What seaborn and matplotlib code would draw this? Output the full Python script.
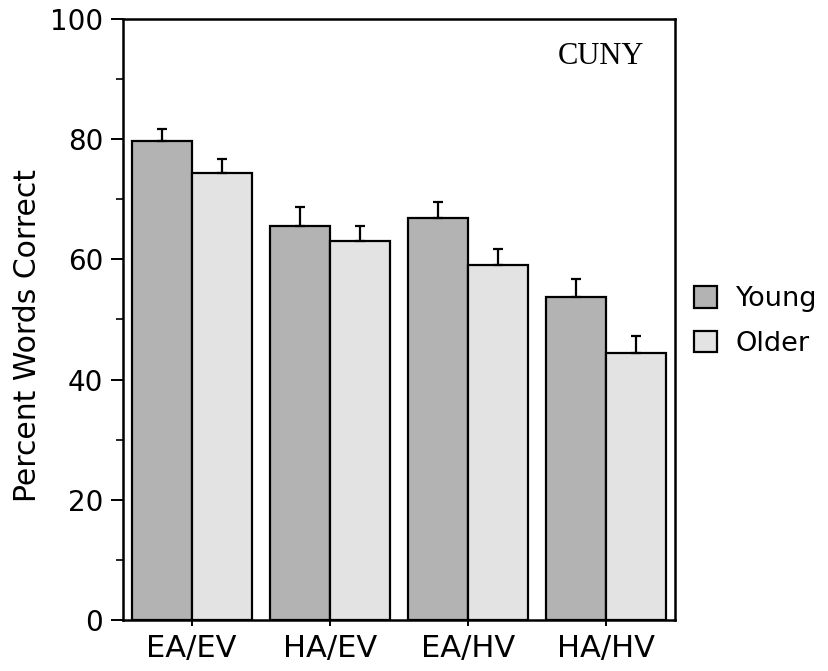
import matplotlib
matplotlib.use("Agg")
import matplotlib.pyplot as plt
import seaborn as sns
import pandas as pd
import numpy as np
from matplotlib.ticker import MultipleLocator

# Percent words correct per listening condition, young vs older listeners
conditions = ["EA/EV", "HA/EV", "EA/HV", "HA/HV"]
groups = ["Young", "Older"]
young_pct = [79.6, 65.6, 66.9, 53.7]
older_pct = [74.3, 63.0, 59.0, 44.4]
young_err = [2.1, 3.1, 2.7, 3.0]
older_err = [2.4, 2.6, 2.7, 2.9]

df = pd.DataFrame({
    "cond": conditions * 2,
    "group": ["Young"] * 4 + ["Older"] * 4,
    "pct": young_pct + older_pct,
})
errs = {"Young": young_err, "Older": older_err}

sns.set_style("ticks")
plt.rcParams["font.family"] = ["DejaVu Sans"]
plt.rcParams["text.color"] = "black"
plt.rcParams["axes.labelcolor"] = "black"
plt.rcParams["xtick.color"] = "black"
plt.rcParams["ytick.color"] = "black"

fig = plt.figure(figsize=(8.29, 6.71), dpi=100)
ax = fig.add_axes([0.148, 0.076, 0.666, 0.896])

palette = {"Young": "#b3b3b3", "Older": "#e3e3e3"}
sns.barplot(data=df, x="cond", y="pct", hue="group", hue_order=groups,
            order=conditions, palette=palette, edgecolor="black",
            linewidth=1.6, width=0.87, gap=0, saturation=1, ax=ax,
            errorbar=None, legend=True)

# upward-only error bars on every bar
for cont, g in zip(ax.containers, groups):
    xs = [b.get_x() + b.get_width() / 2 for b in cont]
    hs = [b.get_height() for b in cont]
    e = np.array(errs[g])
    ax.errorbar(xs, hs, yerr=[np.zeros_like(e), e], fmt="none",
                ecolor="black", elinewidth=1.6, capsize=3.5, capthick=1.6,
                zorder=1)

ax.set_xlim(-0.5, 3.5)
ax.set_ylim(0, 100)
ax.yaxis.set_major_locator(MultipleLocator(20))
ax.yaxis.set_minor_locator(MultipleLocator(10))
ax.tick_params(axis="y", which="major", length=9, width=1.4, labelsize=20,
               pad=5, colors="black")
ax.tick_params(axis="y", which="minor", length=5, width=1.2, colors="black")
ax.tick_params(axis="x", which="major", length=4, width=1.4, labelsize=22,
               pad=6, colors="black")
for s in ax.spines.values():
    s.set_linewidth(1.8)
    s.set_color("black")

ax.set_xlabel("")
ax.set_ylabel("Percent Words Correct", fontsize=21.5, color="black",
              labelpad=6)
ax.yaxis.label.set_y(0.474)

ax.text(0.866, 0.938, "CUNY", transform=ax.transAxes, ha="center",
        va="center", fontsize=22, color="black",
        family=["Liberation Serif", "DejaVu Serif"])

handles, labels = ax.get_legend_handles_labels()
leg = ax.legend(handles, labels, loc="upper left",
                bbox_to_anchor=(694 / 829, 1 - 286 / 671),
                bbox_transform=fig.transFigure, frameon=False,
                fontsize=19.5, handlelength=0.85, handleheight=0.85,
                handletextpad=0.7, labelspacing=0.68, borderpad=0,
                borderaxespad=0)
for t in leg.get_texts():
    t.set_color("black")

fig.savefig("out.png", dpi=100)
